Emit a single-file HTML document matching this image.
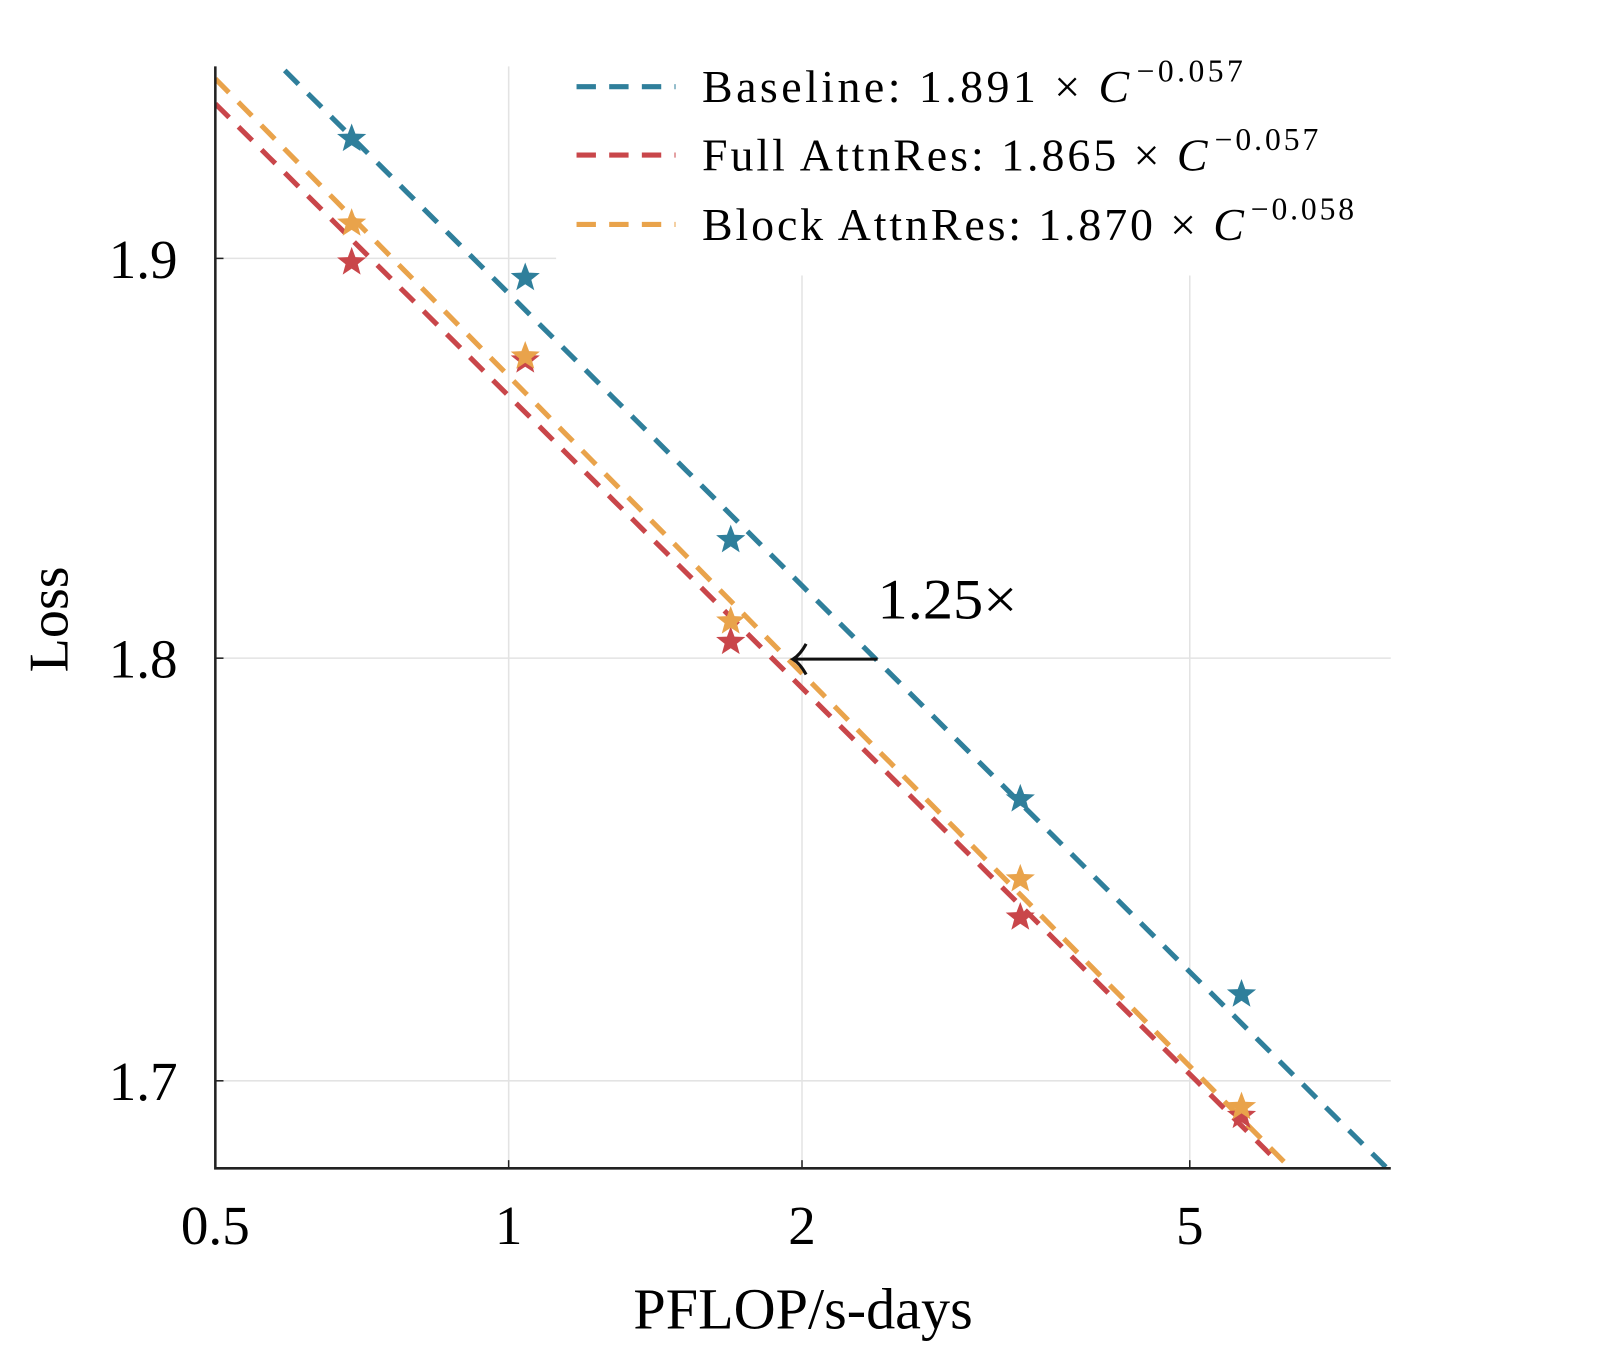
<!DOCTYPE html>
<html><head><meta charset="utf-8"><style>
body{margin:0;background:#fff}
svg{font-family:"Liberation Serif",serif;display:block}
</style></head><body>
<svg id="chart" width="1600" height="1353" viewBox="0 0 1568 1326">
<g id="grid"></g>
<g id="legend-bg-g"><rect x="545" y="55" width="820" height="215" fill="#fff"/></g>
<g id="lines"></g>
<g id="marks"></g>
<g id="axes"></g>
<g id="legend"></g>
</svg>
<script>
const xTicks=[0.5,1,2,5];
const yTicks=[1.7,1.8,1.9];
const seriesNames=["Baseline","Full AttnRes","Block AttnRes"];
const coefA=[1.891,1.865,1.870];
const coefB=[-0.057,-0.057,-0.058];
const fitEnd=[8.1,6.15,6.4];
const computeX=[0.69,1.04,1.69,3.35,5.65];
const baselineLoss=[1.931,1.895,1.829,1.766,1.720];
const fullLoss=[1.899,1.874,1.804,1.738,1.692];
const blockLoss=[1.909,1.875,1.809,1.747,1.694];
const colors=["#2f7f9b","#c9464a","#e9a34b"];
const L=211,R=1363,T=65,B=1145;
const xMin=0.5,xMax=8.04,yMin=1.680,yMax=1.950;
const X=v=>L+(Math.log10(v)-Math.log10(xMin))/(Math.log10(xMax)-Math.log10(xMin))*(R-L);
const Y=v=>B-(Math.log10(v)-Math.log10(yMin))/(Math.log10(yMax)-Math.log10(yMin))*(B-T);
const NS="http://www.w3.org/2000/svg";
function mk(tag,attrs,parent){const e=document.createElementNS(NS,tag);for(const k in attrs)e.setAttribute(k,attrs[k]);parent.appendChild(e);return e;}
const grid=document.getElementById('grid'),lines=document.getElementById('lines'),marks=document.getElementById('marks'),axes=document.getElementById('axes'),legend=document.getElementById('legend');
xTicks.forEach(t=>{
 const g=mk('line',{x1:X(t),x2:X(t),y1:T,y2:B,stroke:'#e3e3e3','stroke-width':1.5},grid);
 
 
 const tk=mk('line',{x1:X(t),x2:X(t),y1:B,y2:B-8,stroke:'#222','stroke-width':1.5},axes);
 
 
 const tx=mk('text',{x:X(t),y:1219,'text-anchor':'middle','font-size':54},axes);tx.textContent=t;
 
 
});
yTicks.forEach(t=>{
 const g=mk('line',{x1:L,x2:R,y1:Y(t),y2:Y(t),stroke:'#e3e3e3','stroke-width':1.5},grid);
 
 
 const tk=mk('line',{x1:L,x2:L+8,y1:Y(t),y2:Y(t),stroke:'#222','stroke-width':1.5},axes);
 
 
 const tx=mk('text',{x:174,y:Y(t)+19,'text-anchor':'end','font-size':54},axes);tx.textContent=t.toFixed(1);
 
 
});
const ax=mk('path',{d:`M${L},${T} V${B} H${R}`,fill:'none',stroke:'#222','stroke-width':2.5},axes);


const xl=mk('text',{x:787,y:1302,'text-anchor':'middle','font-size':57},axes);xl.textContent='PFLOP/s-days';


const yl=mk('text',{x:0,y:0,'text-anchor':'middle','font-size':55,transform:'translate(66,607) rotate(-90)'},axes);yl.textContent='Loss';


const defs=mk('defs',{},document.getElementById('chart'));
const cp=mk('clipPath',{id:'clip'},defs);mk('rect',{x:L,y:T,width:R-L,height:B-T},cp);
lines.setAttribute('clip-path','url(#clip)');
const dataSets=[baselineLoss,fullLoss,blockLoss];
seriesNames.forEach((n,i)=>{
 let d='';const N=80;
 for(let k=0;k<=N;k++){const c=xMin*Math.pow(fitEnd[i]/xMin,k/N);const v=coefA[i]*Math.pow(c,coefB[i]);d+=(k?'L':'M')+X(c).toFixed(1)+','+Y(v).toFixed(1);}
 const p=mk('path',{d,fill:'none',stroke:colors[i],'stroke-width':5,'stroke-dasharray':'19 13'},lines);
 
 
});
function star(cx,cy,r){let s='';for(let k=0;k<10;k++){const rr=k%2?r*0.42:r;const a=-Math.PI/2+k*Math.PI/5;s+=(k?'L':'M')+(cx+rr*Math.cos(a)).toFixed(1)+','+(cy+rr*Math.sin(a)).toFixed(1);}return s+'Z';}
[1,2,0].forEach(i=>{
 computeX.forEach((c,j)=>{
  const p=mk('path',{d:star(X(c),Y(dataSets[i][j]),15),fill:colors[i]},marks);
  
  
 });
});
const ar=mk('path',{d:'M860,646 H777 M790,631 Q784,642 777,646 Q784,650 790,661',fill:'none',stroke:'#111','stroke-width':3},axes);


const at=mk('text',{x:860,y:606,'font-size':56,textLength:137,lengthAdjust:'spacingAndGlyphs'},axes);at.textContent='1.25×';


const legY=[85,152,220];
const exps=['−0.057','−0.057','−0.058'];
const coefs=['1.891','1.865','1.870'];
const legW=[530,604,639];
seriesNames.forEach((n,i)=>{
 const ln=mk('line',{x1:565,x2:662,y1:legY[i],y2:legY[i],stroke:colors[i],'stroke-width':5,'stroke-dasharray':'19 13'},legend);
 
 
 const t=mk('text',{x:688,y:legY[i]+15,'font-size':45,textLength:legW[i],lengthAdjust:'spacing'},legend);
 
 
 t.innerHTML=`${n}: ${coefs[i]} × <tspan font-style="italic">C</tspan><tspan font-size="31" dy="-20" dx="4">${exps[i]}</tspan>`;
});
</script>
</body></html>
